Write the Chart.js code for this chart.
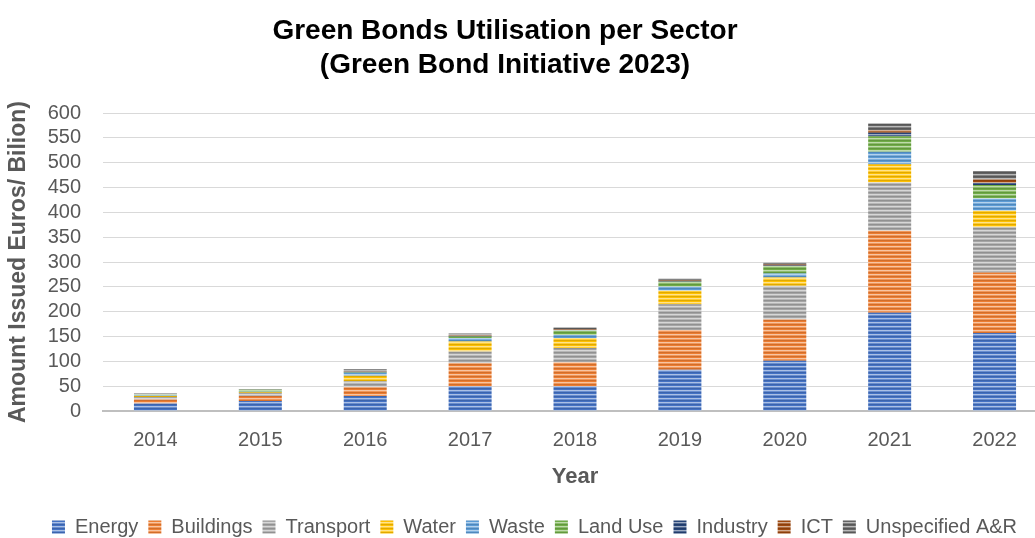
<!DOCTYPE html>
<html>
<head>
<meta charset="utf-8">
<script src="https://cdn.jsdelivr.net/npm/chart.js@4.4.1/dist/chart.umd.min.js"></script>
<style>
  html, body { margin: 0; padding: 0; background: #fff; overflow: hidden; }
  #wrap { position: relative; width: 1047px; height: 538px; overflow: hidden; }
  #titulo {
    position: absolute; left: 0; top: 13px; width: 1010px;
    text-align: center; font: bold 28px 'Liberation Sans', Arial, sans-serif;
    line-height: 34px; color: #000;
  }
  canvas { position: absolute; left: 0; top: 0; }
</style>
</head>
<body>
<div id="wrap">
  <canvas id="chartSetores" width="1047" height="547"></canvas>
  <div id="titulo">Green Bonds Utilisation per Sector<br>(Green Bond Initiative 2023)</div>
</div>
<script>
// categories
const years = ['2014', '2015', '2016', '2017', '2018', '2019', '2020', '2021', '2022'];

// sector values (EUR billion)
const energy      = [15, 20, 30, 50, 50, 83, 101, 198, 157];
const buildings   = [8, 10, 18, 46, 48, 80, 83, 165, 122];
const transport   = [5, 6, 12, 24, 29, 52, 68, 97, 91];
const water       = [2, 2, 11, 20, 20, 27, 17, 37, 33];
const waste       = [1, 1, 6, 7, 6, 8, 8, 25, 25];
const landUse     = [2, 4, 1, 3, 9, 10, 15, 31, 27];
const industry    = [0.5, 0, 1, 1, 1, 1, 1, 7, 4];
const ict         = [0.5, 0, 1, 1, 1, 2, 2, 6, 7];
const unspecified = [1, 1, 4, 4, 4, 4, 4, 13, 17];

const sectorNames = ['Energy', 'Buildings', 'Transport', 'Water', 'Waste', 'Land Use', 'Industry', 'ICT', 'Unspecified A&R'];
const sectorData = [energy, buildings, transport, water, waste, landUse, industry, ict, unspecified];
const sectorColors = ['#4472C4', '#ED7D31', '#A5A5A5', '#FFC000', '#5B9BD5', '#70AD47', '#264478', '#9E480E', '#636363'];

const axisGrey = '#595959';
const padEsq = 22; // left layout padding, centres the legend like the original

// mix a hex colour with white (t>0) or black (t<0)
function shade(hex, t) {
    const n = parseInt(hex.slice(1), 16);
    let r = (n >> 16) & 255, g = (n >> 8) & 255, b = n & 255;
    const alvo = t < 0 ? 0 : 255;
    const k = Math.abs(t);
    r = Math.round(r + (alvo - r) * k);
    g = Math.round(g + (alvo - g) * k);
    b = Math.round(b + (alvo - b) * k);
    return `rgb(${r},${g},${b})`;
}

// horizontal stripes like the Excel texture fill
function listras(hex) {
    const c = document.createElement('canvas');
    c.width = 4; c.height = 4;
    const g = c.getContext('2d');
    const linhas = [shade(hex, -0.12), hex, shade(hex, 0.55), shade(hex, 0.2)];
    linhas.forEach((cor, i) => { g.fillStyle = cor; g.fillRect(0, i, 4, 1); });
    return g.createPattern(c, 'repeat');
}

const datasets = sectorNames.map((nome, i) => ({
    label: nome,
    data: sectorData[i],
    backgroundColor: listras(sectorColors[i]),
    borderWidth: 0,
    barPercentage: 0.41,
    categoryPercentage: 1.0
}));

const ctx = document.getElementById('chartSetores').getContext('2d');
new Chart(ctx, {
    type: 'bar',
    data: { labels: years, datasets: datasets },
    options: {
        responsive: false,
        animation: false,
        layout: { padding: { top: 113, left: padEsq, right: 0, bottom: 0 } },
        plugins: {
            legend: {
                position: 'bottom',
                labels: {
                    color: axisGrey,
                    font: { family: 'Liberation Sans', size: 20 },
                    boxWidth: 13, boxHeight: 13, padding: 10
                }
            },
            tooltip: { enabled: false }
        },
        scales: {
            x: {
                stacked: true,
                grid: { display: false, drawTicks: false },
                border: { display: true, color: '#bfbfbf', width: 2 },
                ticks: { color: axisGrey, font: { family: 'Liberation Sans', size: 20 }, padding: 17 },
                title: {
                    display: true, text: 'Year', color: axisGrey,
                    font: { family: 'Liberation Sans', size: 22, weight: 'bold' },
                    padding: { top: 0, bottom: 17 }
                },
                afterFit: (escala) => { escala.height = 96; }
            },
            y: {
                stacked: true,
                min: 0, max: 600,
                ticks: { stepSize: 50, autoSkip: false, color: axisGrey, font: { family: 'Liberation Sans', size: 20 }, padding: 22 },
                grid: { color: '#d9d9d9', lineWidth: 1, drawTicks: false },
                border: { display: false },
                title: {
                    display: true, text: 'Amount Issued Euros/ Bilion)', color: axisGrey,
                    font: { family: 'Liberation Sans', size: 23, weight: 'bold' },
                    padding: { top: -17, bottom: 0 }
                },
                afterFit: (escala) => { escala.width = 103 - padEsq; }
            }
        }
    }
});
</script>
</body>
</html>
